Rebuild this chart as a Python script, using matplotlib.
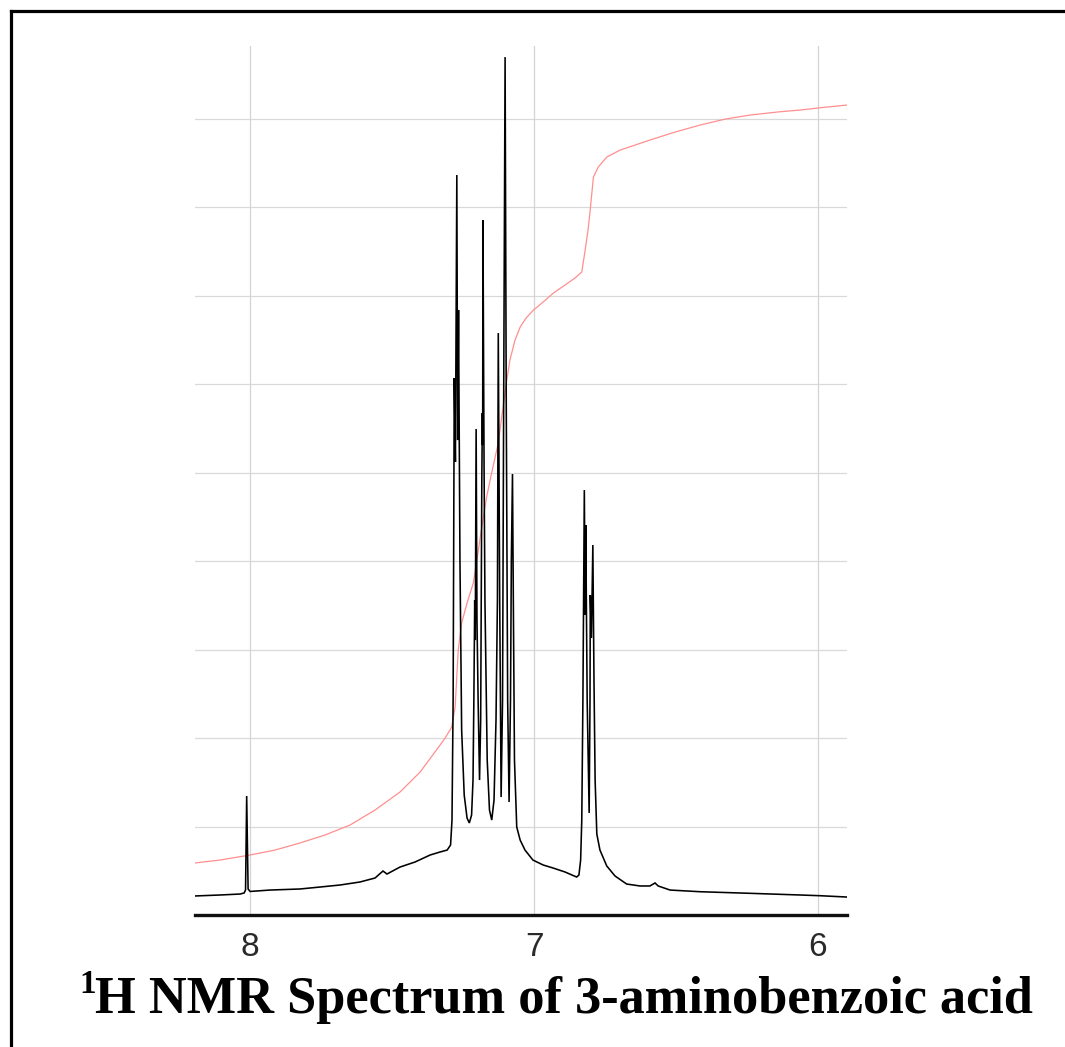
import matplotlib
matplotlib.use("Agg")
import matplotlib.pyplot as plt
from matplotlib.lines import Line2D

# ---- data (chemical shift in ppm, intensity in grid units) ----
spec_ppm = [8.194, 8.106, 8.035, 8.021, 8.016, 8.012, 8.007, 8.000, 7.930, 7.824,
            7.754, 7.683, 7.613, 7.560, 7.532, 7.518, 7.472, 7.419, 7.366, 7.331,
            7.306, 7.294, 7.289, 7.285, 7.281, 7.277, 7.272, 7.269, 7.266, 7.261,
            7.255, 7.246, 7.236, 7.228, 7.220, 7.215, 7.212, 7.209, 7.207, 7.204,
            7.201, 7.197, 7.192, 7.188, 7.184, 7.182, 7.181, 7.180, 7.176, 7.173,
            7.165, 7.157, 7.149, 7.141, 7.134, 7.129, 7.126, 7.121, 7.116, 7.111,
            7.107, 7.102, 7.098, 7.093, 7.088, 7.083, 7.080, 7.076, 7.073, 7.069,
            7.061, 7.049, 7.032, 7.004, 6.968, 6.933, 6.891, 6.850, 6.842, 6.836,
            6.832, 6.828, 6.823, 6.820, 6.818, 6.813, 6.806, 6.803, 6.802, 6.798,
            6.793, 6.789, 6.785, 6.779, 6.768, 6.744, 6.715, 6.674, 6.627, 6.592,
            6.574, 6.563, 6.521, 6.415, 6.239, 6.063, 5.993, 5.898]
spec_int = [0.215, 0.226, 0.237, 0.249, 0.282, 1.345, 0.294, 0.266, 0.282, 0.294,
            0.316, 0.339, 0.373, 0.418, 0.497, 0.463, 0.542, 0.599, 0.678, 0.712,
            0.734, 0.791, 1.073, 2.429, 6.068, 5.119, 8.362, 5.367, 6.836, 4.011,
            2.090, 1.356, 1.096, 1.040, 1.130, 1.525, 2.429, 3.559, 3.107, 5.492,
            3.333, 2.429, 1.525, 2.203, 4.915, 5.672, 5.311, 7.853, 5.028, 3.559,
            1.751, 1.186, 1.073, 1.299, 2.203, 3.559, 6.576, 3.559, 1.333, 2.429,
            5.819, 9.695, 5.819, 2.429, 1.277, 2.429, 4.011, 4.983, 3.559, 1.751,
            0.994, 0.847, 0.734, 0.621, 0.565, 0.531, 0.486, 0.429, 0.452, 0.621,
            1.073, 2.429, 4.802, 3.390, 4.407, 2.429, 1.153, 2.429, 3.616, 3.130,
            4.181, 2.655, 1.525, 0.915, 0.734, 0.554, 0.441, 0.350, 0.328, 0.328,
            0.362, 0.328, 0.282, 0.263, 0.245, 0.226, 0.218, 0.203]

integral_ppm = [8.194, 8.106, 8.000, 7.912, 7.824, 7.736, 7.648, 7.560, 7.472, 7.401,
                7.349, 7.313, 7.290, 7.278, 7.267, 7.255, 7.236, 7.214, 7.196, 7.183,
                7.167, 7.151, 7.137, 7.126, 7.113, 7.096, 7.085, 7.067, 7.049, 7.028,
                7.002, 6.968, 6.932, 6.891, 6.856, 6.832, 6.820, 6.810, 6.803, 6.791,
                6.774, 6.744, 6.697, 6.644, 6.592, 6.504, 6.415, 6.327, 6.239, 6.134,
                6.063, 5.993, 5.898]
integral_val = [0.588, 0.621, 0.678, 0.734, 0.814, 0.904, 1.017, 1.186, 1.390, 1.616,
                1.842, 2.000, 2.124, 2.350, 2.994, 3.299, 3.525, 3.751, 4.124, 4.407,
                4.723, 4.972, 5.175, 5.333, 5.650, 6.045, 6.271, 6.497, 6.644, 6.746,
                6.836, 6.927, 7.028, 7.119, 7.198, 7.266, 7.514, 7.740, 7.944, 8.339,
                8.452, 8.565, 8.644, 8.701, 8.757, 8.847, 8.927, 8.994, 9.040, 9.077,
                9.096, 9.122, 9.153]

x_ticks = [8, 7, 6]
x_tick_labels = ["8", "7", "6"]
grid_levels = [1, 2, 3, 4, 5, 6, 7, 8, 9]
title_sup = "1"
title_main = "H NMR Spectrum of 3-aminobenzoic acid"

W, H = 1065, 1047
fig = plt.figure(figsize=(W / 100, H / 100), dpi=100)
fig.patch.set_facecolor("white")

ax = fig.add_axes([195 / W, (H - 915) / H, 652 / W, 869 / H])
ax.set_facecolor("white")

# grid
for g in grid_levels:
    ax.axhline(g, color="#d9d9d9", lw=0.9, zorder=0)
for t in x_ticks:
    ax.axvline(t, color="#d4d4d4", lw=0.9, zorder=0)

ax.plot(integral_ppm, integral_val, color="#ff8f8f", lw=0.9, zorder=2)
ax.plot(spec_ppm, spec_int, color="black", lw=1.15, zorder=3, solid_joinstyle="miter")

ax.set_xlim(8.194, 5.898)
ax.set_ylim(0, 9.82)

for s in ["left", "right", "top"]:
    ax.spines[s].set_visible(False)
ax.spines["bottom"].set_linewidth(2.4)
ax.spines["bottom"].set_color("#111111")

ax.set_xticks(x_ticks)
ax.set_xticklabels(x_tick_labels, fontsize=24, family="Liberation Sans", color="#2a2a2a")
ax.tick_params(axis="x", length=0, pad=12)
ax.set_yticks([])

# figure border (left and top edges)
fig.add_artist(Line2D([10.5 / W, 10.5 / W], [0, 1 - 10.5 / H], color="black", lw=2.3,
                      transform=fig.transFigure, solid_capstyle="projecting"))
fig.add_artist(Line2D([10.5 / W, 1], [1 - 10.5 / H, 1 - 10.5 / H], color="black", lw=2.3,
                      transform=fig.transFigure, solid_capstyle="projecting"))

# title
fig.text(79 / W, (H - 993) / H, title_sup, family="Liberation Serif", weight="bold",
         fontsize=24, va="baseline", ha="left")
fig.text(95 / W, (H - 1013) / H, title_main, family="Liberation Serif", weight="bold",
         fontsize=37.7, va="baseline", ha="left")

fig.savefig("out.png", dpi=100, facecolor="white")
